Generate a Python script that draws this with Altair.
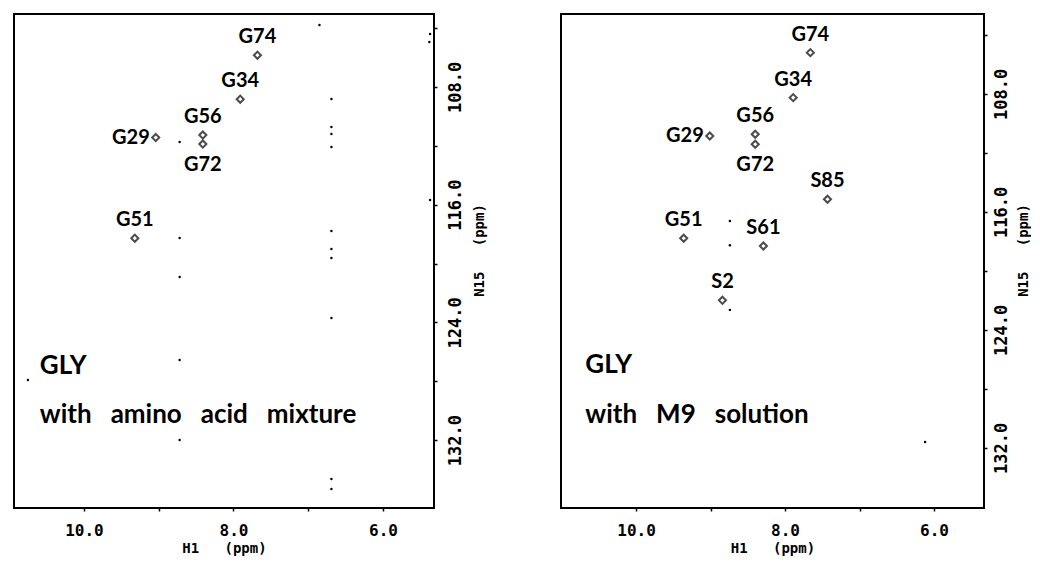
import altair as alt
import pandas as pd

# ---------------- data ----------------
# Left panel: GLY with amino acid mixture
L_LABELS = ["G74", "G34", "G56", "G72", "G29", "G51"]
L_H1 = [7.68, 7.91, 8.41, 8.41, 9.04, 9.32]
L_N15 = [105.84, 108.83, 111.27, 111.88, 111.44, 118.28]

L_NOISE_H1 = [6.85, 5.37, 5.38, 6.69, 6.69, 6.69, 6.69, 8.72, 8.72, 6.69, 6.69, 6.69,
              5.37, 8.72, 6.69, 8.72, 10.75, 8.72, 6.69, 6.69]
L_NOISE_N15 = [103.79, 104.40, 104.94, 108.82, 110.72, 111.20, 112.08, 111.74, 118.27, 117.79, 119.01, 119.63,
               115.68, 120.92, 123.70, 126.56, 127.92, 132.00, 134.65, 135.33]

SP = "\u00a0\u00a0 "
L_NOTE = ["GLY", "with" + SP + "amino" + SP + "acid" + SP + "mixture"]
L_NOTE_H1 = [10.59, 10.59]
L_NOTE_N15 = [126.97, 130.30]

# Right panel: GLY with M9 solution
R_LABELS = ["G74", "G34", "G56", "G72", "G29", "S85", "G51", "S61", "S2"]
R_H1 = [7.66, 7.89, 8.40, 8.40, 9.01, 7.43, 9.36, 8.29, 8.84]
R_N15 = [105.20, 108.25, 110.73, 111.41, 110.85, 115.14, 117.78, 118.31, 121.99]

R_NOISE_H1 = [8.74, 8.74, 8.74, 6.12]
R_NOISE_N15 = [116.61, 118.26, 122.64, 131.59]

R_NOTE = ["GLY", "with" + SP + "M9" + SP + "solution"]
R_NOTE_H1 = [10.68, 10.68]
R_NOTE_N15 = [126.37, 129.76]

BELOW = ["G72"]
SIDE = ["G29"]

X_TICKS = [10, 9, 8, 7, 6]
Y_TICKS = [104, 108, 112, 116, 120, 124, 128, 132]

MONO = "DejaVu Sans Mono"
LABEL_FONT = "Lato"


def panel(labels, h1, n15, nh1, nn15, notes, note_h1, note_n15,
          xdom, ydom, w, h, ylab_pad, ytitle_x):
    peaks = pd.DataFrame({"label": labels, "H1": h1, "N15": n15})
    noise = pd.DataFrame({"H1": nh1, "N15": nn15})
    note = pd.DataFrame({"text": notes, "H1": note_h1, "N15": note_n15})

    x = alt.X("H1:Q",
              scale=alt.Scale(domain=xdom, nice=False, zero=False),
              axis=alt.Axis(values=X_TICKS, orient="bottom",
                            labelExpr="datum.value % 2 == 0 ? format(datum.value, '.1f') : ''",
                            title="H1\u00a0\u00a0\u00a0(ppm)",
                            labelFont=MONO, labelFontSize=16, labelFontWeight="bold",
                            labelColor="black", labelPadding=11,
                            titleFont=MONO, titleFontSize=14, titleFontWeight="bold",
                            titleColor="black", titlePadding=3,
                            tickSize=3, tickColor="black", tickWidth=1.5,
                            domain=False, grid=False))
    y = alt.Y("N15:Q",
              scale=alt.Scale(domain=ydom, reverse=True, nice=False, zero=False),
              axis=alt.Axis(values=Y_TICKS, orient="right",
                            labelExpr="(datum.value - 100) % 8 == 0 ? format(datum.value, '.1f') : ''",
                            labelAngle=270, labelAlign="center", labelBaseline="top",
                            labelFont=MONO, labelFontSize=17, labelFontWeight="bold",
                            labelColor="black", labelPadding=ylab_pad,
                            title="N15\u00a0\u00a0\u00a0(ppm)",
                            titleAngle=270, titleAlign="center", titleBaseline="top",
                            titleX=ytitle_x, titleY=236,
                            titleFont=MONO, titleFontSize=14, titleFontWeight="bold",
                            titleColor="black",
                            tickSize=3, tickColor="black", tickWidth=1.5,
                            domain=False, grid=False))

    pts = alt.Chart(peaks).mark_point(shape="diamond", filled=False, size=50,
                                      strokeWidth=2, color="black").encode(x=x, y=y)
    dots = alt.Chart(noise).mark_circle(size=6, color="black", opacity=1).encode(x=x, y=y)

    txt_kw = dict(font=LABEL_FONT, fontSize=20, fontWeight="bold", color="black")
    above = alt.Chart(peaks).transform_filter(
        ~alt.FieldOneOfPredicate(field="label", oneOf=BELOW + SIDE)
    ).mark_text(dy=-18, **txt_kw).encode(x=x, y=y, text="label:N")
    below = alt.Chart(peaks).transform_filter(
        alt.FieldOneOfPredicate(field="label", oneOf=BELOW)
    ).mark_text(dy=21, **txt_kw).encode(x=x, y=y, text="label:N")
    side = alt.Chart(peaks).transform_filter(
        alt.FieldOneOfPredicate(field="label", oneOf=SIDE)
    ).mark_text(dx=-6, align="right", **txt_kw).encode(x=x, y=y, text="label:N")

    notes_layer = alt.Chart(note).mark_text(
        align="left", baseline="middle", font=LABEL_FONT, fontSize=26,
        fontWeight="bold", color="black"
    ).encode(x=x, y=y, text="text:N")

    return alt.layer(pts, dots, above, below, side, notes_layer).properties(width=w, height=h)


left = panel(L_LABELS, L_H1, L_N15, L_NOISE_H1, L_NOISE_N15, L_NOTE, L_NOTE_H1, L_NOTE_N15,
             [10.936, 5.318], [103.04, 136.62], 420, 494, 10, 38)
right = panel(R_LABELS, R_H1, R_N15, R_NOISE_H1, R_NOISE_N15, R_NOTE, R_NOTE_H1, R_NOTE_N15,
              [11.007, 5.329], [102.58, 136.07], 423, 494, 6, 32)

chart = alt.hconcat(left, right, spacing=73).configure_view(
    stroke="black", strokeWidth=2
).properties(background="white", padding={"left": 5, "top": 5, "right": 0, "bottom": 0})

chart.save("out.html", embed_options={"renderer": "svg", "actions": False})
